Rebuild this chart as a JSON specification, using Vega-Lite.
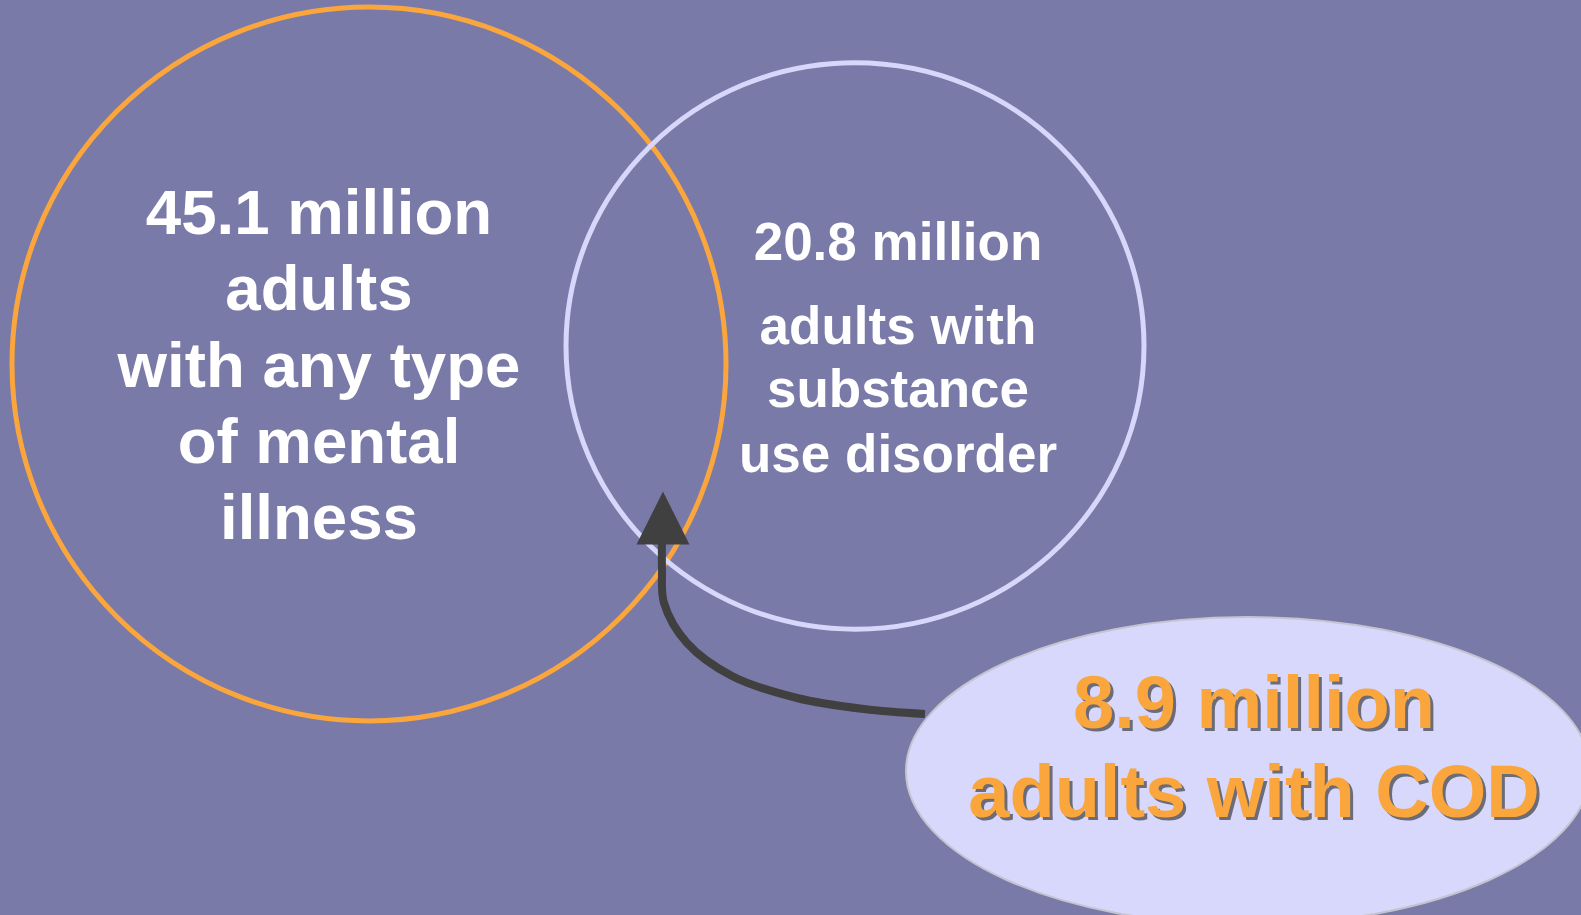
{
  "$schema": "https://vega.github.io/schema/vega-lite/v6.json",
  "width": 1581,
  "height": 915,
  "autosize": {"type": "none"},
  "padding": 0,
  "background": "#797aa8",
  "config": {"view": {"stroke": null}, "axis": {"disable": true}},
  "datasets": {
    "sets": [
      {"set": "Any mental illness", "millions": 45.1, "x": 369, "y": 364},
      {"set": "Substance use disorder", "millions": 20.8, "x": 855, "y": 346},
      {"set": "Co-occurring disorders (COD)", "millions": 8.9, "x": 1248, "y": 771}
    ],
    "labels": [
      {"set": "ami", "line": "45.1 million", "x": 319, "y": 234},
      {"set": "ami", "line": "adults", "x": 319, "y": 310},
      {"set": "ami", "line": "with any type", "x": 319, "y": 387},
      {"set": "ami", "line": "of mental", "x": 319, "y": 463},
      {"set": "ami", "line": "illness", "x": 319, "y": 539},
      {"set": "sud", "line": "20.8 million", "x": 898, "y": 260},
      {"set": "sud", "line": "adults with", "x": 898, "y": 344},
      {"set": "sud", "line": "substance", "x": 898, "y": 407},
      {"set": "sud", "line": "use disorder", "x": 898, "y": 472},
      {"set": "cod", "line": "8.9 million", "x": 1254, "y": 728},
      {"set": "cod", "line": "adults with COD", "x": 1254, "y": 817}
    ],
    "arrow": [
      {"seq": 1, "x": 925, "y": 714},
      {"seq": 2, "x": 864, "y": 709},
      {"seq": 3, "x": 797, "y": 698},
      {"seq": 4, "x": 732, "y": 676},
      {"seq": 5, "x": 687, "y": 643},
      {"seq": 6, "x": 664, "y": 603},
      {"seq": 7, "x": 662, "y": 570},
      {"seq": 8, "x": 662, "y": 540}
    ],
    "head": [{"x": 663, "y": 518}]
  },
  "encoding": {
    "x": {"field": "x", "type": "quantitative", "scale": {"domain": [0, 1581], "nice": false, "zero": false}, "axis": null},
    "y": {"field": "y", "type": "quantitative", "scale": {"domain": [0, 915], "nice": false, "zero": false, "reverse": true}, "axis": null}
  },
  "layer": [
    {
      "data": {"name": "sets"},
      "transform": [{"filter": "datum.millions == 8.9"}],
      "mark": {"type": "point", "clip": true, "shape": "M -1 0 C -1 -0.248 -0.552 -0.45 0 -0.45 C 0.552 -0.45 1 -0.248 1 0 C 1 0.248 0.552 0.45 0 0.45 C -0.552 0.45 -1 0.248 -1 0 Z", "size": 467856, "filled": true, "fill": "#d7d8fb", "stroke": "#c4c4d0", "strokeWidth": 2, "opacity": 1}
    },
    {
      "data": {"name": "sets"},
      "transform": [{"filter": "datum.millions == 45.1"}],
      "mark": {"type": "point", "shape": "circle", "size": 509796, "filled": false, "fill": null, "stroke": "#fba63c", "strokeWidth": 5, "opacity": 1}
    },
    {
      "data": {"name": "sets"},
      "transform": [{"filter": "datum.millions == 20.8"}],
      "mark": {"type": "point", "shape": "M -1 0 C -1 -0.541 -0.552 -0.98 0 -0.98 C 0.552 -0.98 1 -0.541 1 0 C 1 0.541 0.552 0.98 0 0.98 C -0.552 0.98 -1 0.541 -1 0 Z", "size": 334084, "filled": false, "fill": null, "stroke": "#d6d7fb", "strokeWidth": 5, "opacity": 1}
    },
    {
      "data": {"name": "arrow"},
      "mark": {"type": "line", "interpolate": "catmull-rom", "stroke": "#404040", "strokeWidth": 8, "strokeCap": "butt"},
      "encoding": {"order": {"field": "seq", "type": "quantitative"}}
    },
    {
      "data": {"name": "head"},
      "mark": {"type": "point", "shape": "M 0 -1 L -1 1 L 1 1 Z", "size": 2809, "filled": true, "fill": "#404040", "stroke": null, "opacity": 1}
    },
    {
      "data": {"name": "labels"},
      "transform": [{"filter": "datum.set == 'ami'"}],
      "mark": {"type": "text", "font": "Liberation Sans", "fontWeight": "bold", "fontSize": 63.6, "fill": "white", "align": "center", "baseline": "alphabetic"},
      "encoding": {"text": {"field": "line"}}
    },
    {
      "data": {"name": "labels"},
      "transform": [{"filter": "datum.set == 'sud'"}],
      "mark": {"type": "text", "font": "Liberation Sans", "fontWeight": "bold", "fontSize": 53, "fill": "white", "align": "center", "baseline": "alphabetic"},
      "encoding": {"text": {"field": "line"}}
    },
    {
      "data": {"name": "labels"},
      "transform": [{"filter": "datum.set == 'cod'"}],
      "mark": {"type": "text", "font": "Liberation Sans", "fontWeight": "bold", "fontSize": 74, "fill": "#333333", "opacity": 0.65, "dx": 3, "dy": 3, "align": "center", "baseline": "alphabetic"},
      "encoding": {"text": {"field": "line"}}
    },
    {
      "data": {"name": "labels"},
      "transform": [{"filter": "datum.set == 'cod'"}],
      "mark": {"type": "text", "font": "Liberation Sans", "fontWeight": "bold", "fontSize": 74, "fill": "#fba63c", "align": "center", "baseline": "alphabetic"},
      "encoding": {"text": {"field": "line"}}
    }
  ]
}
